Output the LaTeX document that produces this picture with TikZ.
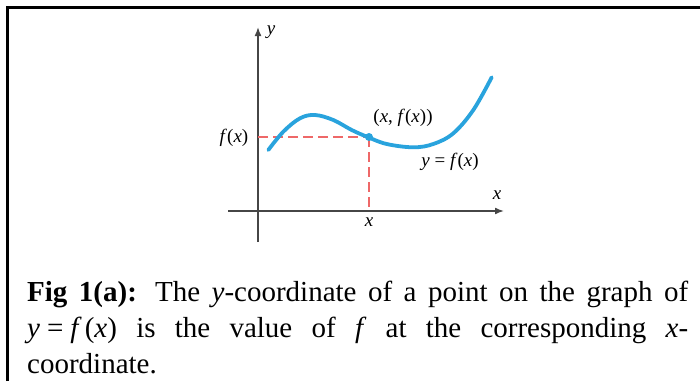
\documentclass[tikz,border=0pt]{standalone}
\usepackage{fontspec}
\setmainfont{Liberation Serif}
\usetikzlibrary{arrows.meta}

\definecolor{curveblue}{RGB}{41,163,221}
\definecolor{guidered}{RGB}{238,104,104}
\definecolor{axisgray}{RGB}{70,70,70}

\tikzset{
  axis/.style={axisgray, line width=1.6pt, -{Latex[length=9pt,width=7pt]}},
  guide/.style={guidered, line width=1.1pt, dash pattern=on 10pt off 5pt},
  plotlabel/.style={font=\fontsize{19}{19}\selectfont, inner sep=0pt},
}

\begin{document}
\begin{tikzpicture}[x=1pt,y=-1pt]
\useasboundingbox (0,0) rectangle (700,381);

% frame
\draw[line width=2.5pt] (7.5,381) -- (7.5,7.5) -- (700,7.5);

% axes
\coordinate (xstart) at (228,211);
\coordinate (xend) at (504,211);
\coordinate (ystart) at (258,242);
\coordinate (yend) at (258,27);
\draw[axis] (xstart) -- (xend);
\draw[axis] (ystart) -- (yend);

\node[plotlabel] (ylab) at (271,32) {\textit{y}};
\node[plotlabel] (xlab) at (497,195) {\textit{x}};
\node[plotlabel] (xtick) at (369,222) {\textit{x}};
\node[plotlabel] (fxlab) at (234,138) {\textit{f}(\textit{x})};

% dashed guides to the axes
\coordinate (Pc) at (369,137);
\coordinate (Py) at (258,137);
\coordinate (Px) at (369,211);
\draw[guide] (Py) -- (Pc);
\draw[guide] (Pc) -- (Px);

% curve y = f(x)
\draw[curveblue, line width=3.8pt, line cap=round]
  plot[smooth, tension=0.6] coordinates {
    (268.3,150) (283.3,131.7) (300,118.3) (315,115) (333.3,120)
    (351.7,130) (368.3,137.3) (386.7,144) (413.3,147.3) (433.3,144)
    (453.3,133.3) (473.3,110) (491.7,77.3)};

% point on the graph
\node[circle, fill=curveblue, inner sep=0pt, minimum size=8pt] (P) at (Pc) {};
\node[plotlabel] (ptlab) at (403,118) {(\textit{x}, \textit{f}(\textit{x}))};
\node[plotlabel] (eqlab) at (450,162) {\textit{y} = \textit{f}(\textit{x})};

% caption
\node[anchor=north west, inner sep=0pt, text width=661pt, align=justify,
  font=\fontsize{29}{36}\selectfont] (caption) at (27,281)
  {\textbf{Fig 1(a):} The \textit{y}-coordinate of a point on the graph of\linebreak
   \textit{y}\kern7pt=\kern7pt\textit{f}\kern3pt(\textit{x}) is the value of \textit{f} at the corresponding \textit{x}-\linebreak
   coordinate.};

\end{tikzpicture}
\end{document}
